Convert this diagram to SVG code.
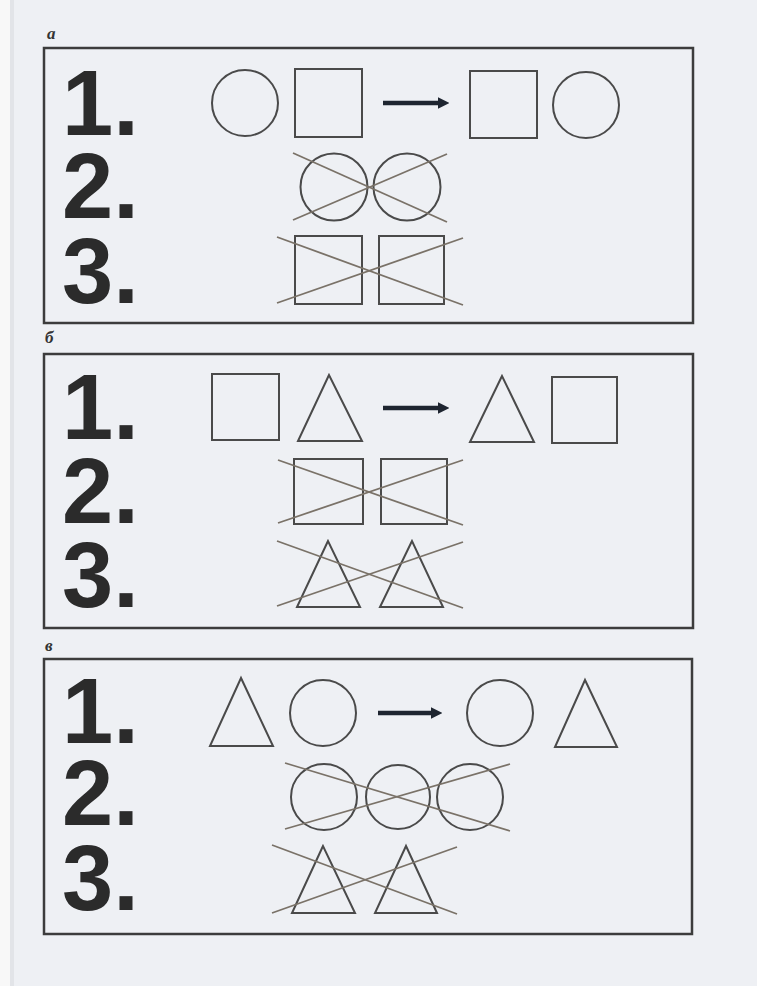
<svg xmlns="http://www.w3.org/2000/svg" width="757" height="986" viewBox="0 0 757 986">
<style>
.frame{fill:none;stroke:#3c3c3c;stroke-width:2.5}
.sh{fill:none;stroke:#4a4a4a;stroke-width:2}
.x{stroke:#7a7268;stroke-width:1.8;fill:none}
.num{font-family:"Liberation Sans",Arial,sans-serif;font-weight:bold;font-size:92px;fill:#2b2b2b}
.lbl{font-family:"Liberation Serif","Times New Roman",serif;font-style:italic;font-weight:bold;font-size:17px;fill:#333}
.arr{stroke:#1e2530;stroke-width:4.5}
</style>
<defs>
<marker id="ah" viewBox="0 0 10 10" refX="2" refY="5" markerWidth="2.6" markerHeight="2.6" orient="auto" markerUnits="strokeWidth">
<path d="M0,0 L10,5 L0,10 z" fill="#1e2530"/>
</marker>
</defs>
<rect x="0" y="0" width="757" height="986" fill="#eef0f4"/>
<rect x="0" y="0" width="10" height="986" fill="#f8f8f8"/>
<rect x="10" y="0" width="4" height="986" fill="#e2e4e8"/>

<g id="panel-a">
<text class="lbl" x="47" y="39">а</text>
<rect class="frame" x="44" y="48" width="649" height="275"/>
<text class="num"><tspan x="62" y="135">1.</tspan><tspan x="62" y="218">2.</tspan><tspan x="62" y="303">3.</tspan></text>
<g id="a-row1">
<circle class="sh" cx="245" cy="103" r="33"/>
<rect class="sh" x="295" y="69" width="67" height="68"/>
<line class="arr" x1="383" y1="103" x2="440" y2="103" marker-end="url(#ah)"/>
<rect class="sh" x="470" y="71" width="67" height="67"/>
<circle class="sh" cx="586" cy="105" r="33"/>
</g>
<g id="a-row2">
<circle class="sh" cx="334" cy="187" r="33.5"/>
<circle class="sh" cx="407" cy="187" r="33.5"/>
<line class="x" x1="293" y1="153" x2="447" y2="222"/>
<line class="x" x1="293" y1="220" x2="447" y2="154"/>
</g>
<g id="a-row3">
<rect class="sh" x="295" y="236" width="67" height="68"/>
<rect class="sh" x="379" y="236" width="65" height="68"/>
<line class="x" x1="277" y1="237" x2="463" y2="305"/>
<line class="x" x1="277" y1="303" x2="463" y2="238"/>
</g>
</g>

<g id="panel-b">
<text class="lbl" x="45" y="343">б</text>
<rect class="frame" x="44" y="354" width="649" height="274"/>
<text class="num"><tspan x="62" y="439">1.</tspan><tspan x="62" y="523">2.</tspan><tspan x="62" y="607">3.</tspan></text>
<g id="b-row1">
<rect class="sh" x="212" y="374" width="67" height="66"/>
<polygon class="sh" points="329,375 298,441 362,441"/>
<line class="arr" x1="383" y1="408" x2="440" y2="408" marker-end="url(#ah)"/>
<polygon class="sh" points="502,376 470,442 534,442"/>
<rect class="sh" x="552" y="377" width="65" height="66"/>
</g>
<g id="b-row2">
<rect class="sh" x="294" y="459" width="69" height="65"/>
<rect class="sh" x="381" y="459" width="66" height="65"/>
<line class="x" x1="278" y1="460" x2="463" y2="525"/>
<line class="x" x1="278" y1="523" x2="463" y2="460"/>
</g>
<g id="b-row3">
<polygon class="sh" points="328,541 297,607 360,607"/>
<polygon class="sh" points="412,541 380,607 443,607"/>
<line class="x" x1="277" y1="541" x2="463" y2="608"/>
<line class="x" x1="277" y1="606" x2="463" y2="542"/>
</g>
</g>

<g id="panel-v">
<text class="lbl" x="45" y="651">в</text>
<rect class="frame" x="44" y="659" width="648" height="275"/>
<text class="num"><tspan x="62" y="743">1.</tspan><tspan x="62" y="825">2.</tspan><tspan x="62" y="910">3.</tspan></text>
<g id="v-row1">
<polygon class="sh" points="241,678 210,746 273,746"/>
<circle class="sh" cx="323" cy="713" r="33"/>
<line class="arr" x1="378" y1="713" x2="433" y2="713" marker-end="url(#ah)"/>
<circle class="sh" cx="500" cy="713" r="33"/>
<polygon class="sh" points="585,680 555,747 617,747"/>
</g>
<g id="v-row2">
<circle class="sh" cx="324" cy="797" r="33"/>
<circle class="sh" cx="398" cy="797" r="32"/>
<circle class="sh" cx="470" cy="797" r="33"/>
<line class="x" x1="285" y1="763" x2="510" y2="831"/>
<line class="x" x1="285" y1="829" x2="510" y2="764"/>
</g>
<g id="v-row3">
<polygon class="sh" points="323,846 292,913 355,913"/>
<polygon class="sh" points="406,846 375,913 437,913"/>
<line class="x" x1="272" y1="845" x2="457" y2="914"/>
<line class="x" x1="272" y1="913" x2="457" y2="847"/>
</g>
</g>
</svg>
